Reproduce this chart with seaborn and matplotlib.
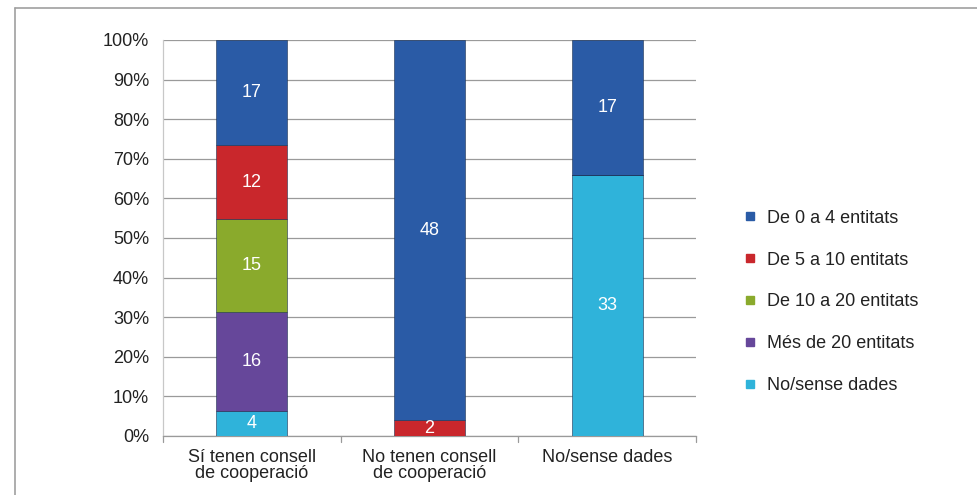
import matplotlib
matplotlib.use("Agg")
import matplotlib.pyplot as plt
import matplotlib.lines as mlines
import seaborn as sns
import numpy as np
import pandas as pd

categories = ["Sí tenen consell\nde cooperació", "No tenen consell\nde cooperació", "No/sense dades"]
series_names = ["No/sense dades", "Més de 20 entitats", "De 10 a 20 entitats",
                "De 5 a 10 entitats", "De 0 a 4 entitats"]
no_dades = [4, 0, 33]
mes_20 = [16, 0, 0]
de_10_20 = [15, 0, 0]
de_5_10 = [12, 2, 0]
de_0_4 = [17, 48, 17]
legend_order = ["De 0 a 4 entitats", "De 5 a 10 entitats", "De 10 a 20 entitats",
                "Més de 20 entitats", "No/sense dades"]
yticks = [0, 10, 20, 30, 40, 50, 60, 70, 80, 90, 100]

colors = {
    "De 0 a 4 entitats": "#2a5ba6",
    "De 5 a 10 entitats": "#c9272c",
    "De 10 a 20 entitats": "#8aaa2c",
    "Més de 20 entitats": "#66479a",
    "No/sense dades": "#2fb3da",
}

sns.set_theme(style="white")
plt.rcParams["font.family"] = ["Liberation Sans", "DejaVu Sans"]

values = {
    "No/sense dades": no_dades,
    "Més de 20 entitats": mes_20,
    "De 10 a 20 entitats": de_10_20,
    "De 5 a 10 entitats": de_5_10,
    "De 0 a 4 entitats": de_0_4,
}
totals = np.sum([values[s] for s in series_names], axis=0)

FS = 13
fig = plt.figure(figsize=(9.78, 4.95), dpi=100)
ax = fig.add_axes([163 / 978, 1 - 436 / 495, 533 / 978, 396 / 495])

bottom = np.zeros(len(categories))
for s in series_names:
    v = np.array(values[s], dtype=float)
    pct = v / totals * 100
    df = pd.DataFrame({"cat": categories, "pct": pct})
    sns.barplot(data=df, x="cat", y="pct", bottom=bottom, color=colors[s],
                width=0.4, ax=ax, saturation=1, edgecolor="#1c3050", linewidth=0.4,
                zorder=3)
    for i, (val, p) in enumerate(zip(v, pct)):
        if val > 0:
            ax.text(i, bottom[i] + p / 2, f"{int(val)}", ha="center", va="center",
                    color="white", fontsize=FS, zorder=5)
    bottom = bottom + pct

if ax.get_legend() is not None:
    ax.get_legend().remove()

ax.set_ylim(0, 100)
ax.set_xlim(-0.5, 2.5)
ax.set_yticks(yticks)
ax.set_yticklabels([f"{t}%" for t in yticks], fontsize=FS, color="#222222")
ax.tick_params(axis="x", labelsize=FS, colors="#222222", length=0, pad=9)
ax.tick_params(axis="y", length=0, pad=10)
for lab in ax.get_xticklabels():
    lab.set_linespacing(1.0)
ax.set_xlabel("")
ax.set_ylabel("")
ax.yaxis.grid(True, color="#9a9a9a", linewidth=0.9, zorder=0)
ax.set_axisbelow(True)
for sp in ["top", "right"]:
    ax.spines[sp].set_visible(False)
ax.spines["left"].set_color("#c8c8c8")
ax.spines["bottom"].set_color("#9a9a9a")
ax.spines["left"].set_linewidth(0.9)
ax.spines["bottom"].set_linewidth(0.9)

# category separator ticks below axis
for xb in [-0.5, 0.5, 1.5, 2.5]:
    ax.plot([xb, xb], [0, -1.5], color="#9a9a9a", linewidth=0.9, clip_on=False, zorder=1)

# legend
handles = [mlines.Line2D([], [], marker="s", linestyle="none", markersize=6,
                         markerfacecolor=colors[s], markeredgecolor=colors[s]) for s in legend_order]
fig.legend(handles, legend_order, loc="center left", bbox_to_anchor=(725 / 978, 1 - 302 / 495),
           frameon=False, fontsize=FS, labelspacing=1.38, handletextpad=0.45,
           handlelength=1.0, labelcolor="#222222")

# outer frame
fig.add_artist(mlines.Line2D([15 / 978, 15 / 978], [0, 1 - 8 / 495], transform=fig.transFigure,
                             color="#a0a0a0", linewidth=1.2))
fig.add_artist(mlines.Line2D([15 / 978, 1], [1 - 8 / 495, 1 - 8 / 495], transform=fig.transFigure,
                             color="#a0a0a0", linewidth=1.2))

fig.savefig("out.png", dpi=100)
